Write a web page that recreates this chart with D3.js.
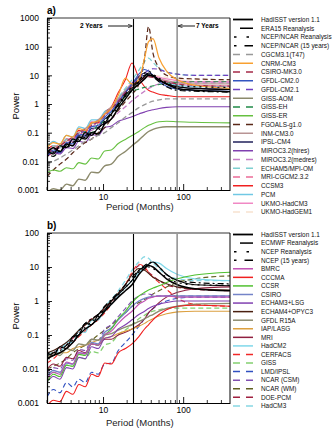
<!DOCTYPE html>
<html>
<head>
<meta charset="utf-8">
<script src="https://cdn.jsdelivr.net/npm/d3@7"></script>
<style>
body { margin: 0; background: #fff; }
text { font-family: "Liberation Sans", Arial, sans-serif; }
</style>
</head>
<body>
<div id="chart"></div>
<script>
// period grid (months) shared by every spectrum
var periods = [2, 2.4, 2.9, 3.5, 4.2, 5, 6, 7.2, 8.7, 10.5, 12.7, 15.5, 19, 23, 28, 33, 37, 42, 50, 62, 85, 140, 384];

// ---- panel a: observations + CMIP3 models ----
var hadisstA = [0.02,0.03,0.022,0.04,0.035,0.07,0.06,0.1,0.09,0.2,0.3,0.7,1.5,3,5,7.5,10,9.5,7,5,3.5,3,2.7];
var era15    = [0.025,0.018,0.035,0.03,0.06,0.05,0.1,0.08,0.15,0.22,0.45,0.9,2,3.5,6,9,12,10,7,5,4,3.5,3.2];
var ncepA    = [0.015,0.02,0.03,0.03,0.045,0.06,0.07,0.1,0.12,0.22,0.4,0.8,1.8,3,6,12,14,11,8,5.5,4.5,4,3.8];
var ncep15A  = [0.02,0.015,0.025,0.035,0.05,0.05,0.08,0.09,0.14,0.25,0.5,1,2.2,4,7,10,11,9,6,4,3,2.8,2.6];
var cgcm     = [0.008,0.01,0.013,0.018,0.025,0.035,0.05,0.06,0.08,0.1,0.15,0.22,0.35,0.5,0.75,0.95,1.1,1.25,1.4,1.5,1.5,1.5,1.5];
var cnrm     = [0.03,0.045,0.04,0.08,0.07,0.14,0.12,0.22,0.25,0.45,0.7,2,8,5,7,40,150,190,40,14,7,4.5,3.5];
var csiro30  = [0.02,0.025,0.035,0.05,0.07,0.1,0.13,0.18,0.25,0.4,0.7,1.2,2.5,4,6,8,9,8.5,7,6,5,4.5,4.2];
var gfdl20   = [0.015,0.025,0.02,0.045,0.04,0.09,0.08,0.16,0.18,0.35,0.55,1.2,2.5,5,11,16,14,10,6,4.2,3.3,3,2.8];
var gfdl21   = [0.02,0.025,0.03,0.04,0.06,0.09,0.12,0.17,0.25,0.4,0.7,1.3,2.6,4.5,8,12,15,17,16,13,11,10,10];
var gissAom  = [0.0008,0.0011,0.001,0.0016,0.0014,0.0024,0.0022,0.0042,0.004,0.007,0.008,0.015,0.022,0.035,0.055,0.085,0.11,0.13,0.15,0.16,0.16,0.16,0.16];
var gissEh   = [0.02,0.02,0.035,0.03,0.06,0.05,0.11,0.1,0.2,0.25,0.5,0.9,1.8,2.8,3.3,3.8,4,4.3,4.8,5.3,5.8,6,6];
var gissEr   = [0.004,0.005,0.0045,0.006,0.0055,0.009,0.008,0.013,0.012,0.023,0.025,0.042,0.058,0.08,0.11,0.15,0.18,0.21,0.24,0.25,0.24,0.23,0.22];
var fgoals   = [0.003,0.005,0.008,0.012,0.02,0.03,0.045,0.06,0.1,0.15,0.3,0.6,1.2,2.2,5,40,500,60,18,10,8,7.5,7];
var inm      = [0.02,0.03,0.04,0.05,0.07,0.1,0.14,0.2,0.28,0.45,0.8,1.5,3,5,7,8.5,9,8.5,7.5,6.5,5.5,5,5];
var ipsl     = [0.015,0.022,0.02,0.04,0.035,0.08,0.07,0.14,0.15,0.3,0.45,1.1,2.5,5,9,12,11,9,6.5,5,4,3.5,3.3];
var mirocHi  = [0.015,0.02,0.018,0.03,0.028,0.05,0.045,0.085,0.08,0.15,0.17,0.25,0.3,0.36,0.45,0.52,0.58,0.63,0.7,0.76,0.8,0.8,0.8];
var mirocMed = [0.02,0.025,0.03,0.04,0.05,0.07,0.09,0.12,0.16,0.22,0.3,0.5,0.8,1.3,2,2.8,3.5,4.2,5,5.5,5.5,5.5,5.5];
var echam5   = [0.02,0.035,0.03,0.06,0.05,0.11,0.11,0.22,0.22,0.5,0.75,1.7,3.5,7,15,30,40,28,18,13,11,10,10];
var mriCgcm  = [0.015,0.02,0.03,0.04,0.06,0.08,0.12,0.16,0.24,0.4,0.7,1.3,2.5,4.5,7,9,9.5,9,7.5,6,5,4.5,4.3];
var ccsm3    = [0.025,0.035,0.03,0.06,0.05,0.12,0.1,0.22,0.22,0.5,0.8,2.5,7,27,8,4,3,2.6,2.2,2,1.8,1.8,1.8];
var pcm      = [0.03,0.05,0.04,0.08,0.07,0.16,0.14,0.28,0.28,0.55,0.75,1.6,3,5,8,10,10,9,7,5.5,4.5,4,4];
var hadcm3A  = [0.025,0.035,0.03,0.06,0.06,0.12,0.11,0.24,0.22,0.45,0.65,1.5,3,5.5,8,9.5,10,9.5,8.5,7.5,6.5,6,6];
var hadgem1  = [0.02,0.025,0.035,0.05,0.07,0.1,0.14,0.2,0.28,0.4,0.7,1.3,2.5,4.5,7,9,10,10,9.5,8.5,7.5,7,7];

// ---- panel b: observations + CMIP2 models ----
var hadisstB = [0.02,0.025,0.03,0.04,0.06,0.1,0.15,0.2,0.3,0.5,0.8,1.3,2,3,6,9,11,10,7,4.5,3,2.3,2];
var ecmwf    = [0.03,0.025,0.045,0.04,0.09,0.1,0.22,0.2,0.4,0.55,1,1.6,2.5,4,8,10,12,14,10,6,4,3,2.8];
var ncepB    = [0.02,0.03,0.04,0.05,0.07,0.11,0.17,0.25,0.35,0.55,0.9,1.5,2.5,4,7,10,10,9,7,5,3.5,3,2.9];
var ncep15B  = [0.025,0.03,0.035,0.05,0.08,0.13,0.22,0.3,0.4,0.7,1.1,1.8,3,5,8,11,13,14,10,6,4,3.5,3.2];
var bmrc     = [0.005,0.008,0.007,0.016,0.014,0.03,0.028,0.055,0.05,0.1,0.13,0.22,0.35,0.5,0.8,1,1.2,1.3,1.4,1.4,1.3,1.3,1.3];
var cccma    = [0.0008,0.0012,0.0011,0.0022,0.0018,0.0035,0.003,0.007,0.006,0.015,0.014,0.03,0.04,0.055,0.09,0.15,0.2,0.28,0.4,0.55,0.7,0.75,0.7];
var ccsr     = [0.004,0.007,0.006,0.013,0.012,0.027,0.025,0.055,0.05,0.1,0.15,0.3,0.5,0.9,1.4,1.8,2.1,2.4,2.8,3.5,4.5,5.8,7];
var csiro    = [0.006,0.009,0.008,0.015,0.014,0.03,0.028,0.06,0.055,0.12,0.16,0.28,0.45,0.7,1,1.2,1.3,1.35,1.4,1.4,1.4,1.4,1.4];
var echam3   = [0.004,0.006,0.005,0.011,0.01,0.022,0.02,0.045,0.04,0.08,0.09,0.15,0.2,0.28,0.4,0.5,0.6,0.7,0.8,0.9,1,1,1];
var echam4   = [0.03,0.035,0.045,0.06,0.09,0.14,0.2,0.28,0.4,0.65,1,1.7,3,6,9,8,6.5,5,4,3.2,2.6,2.3,2.1];
var gfdlR15  = [0.02,0.03,0.025,0.04,0.035,0.055,0.05,0.075,0.07,0.1,0.11,0.14,0.17,0.2,0.25,0.3,0.35,0.4,0.5,0.6,0.7,0.8,0.85];
var iap      = [0.02,0.025,0.03,0.03,0.04,0.045,0.05,0.06,0.07,0.08,0.09,0.11,0.13,0.15,0.18,0.22,0.26,0.3,0.36,0.42,0.48,0.5,0.5];
var mri      = [0.01,0.014,0.012,0.022,0.02,0.035,0.03,0.055,0.05,0.075,0.075,0.1,0.12,0.15,0.2,0.3,0.45,0.6,0.9,1.3,1.8,2.3,2.6];
var hadcm2   = [0.02,0.035,0.03,0.06,0.06,0.13,0.12,0.27,0.28,0.55,0.8,1.5,2.5,4,7,10,12,14,13,9,6,4.5,4];
var cerfacs  = [0.015,0.02,0.03,0.04,0.06,0.09,0.13,0.2,0.28,0.45,0.8,1.5,3,7,12,10,7,5,3.5,2.2,1.2,0.8,0.7];
var giss     = [0.005,0.008,0.007,0.013,0.012,0.022,0.02,0.033,0.03,0.05,0.06,0.1,0.14,0.2,0.3,0.38,0.45,0.5,0.55,0.6,0.62,0.62,0.62];
var lmd      = [0.0015,0.0025,0.002,0.004,0.003,0.005,0.004,0.008,0.007,0.014,0.015,0.035,0.06,0.1,0.18,0.3,0.45,0.6,0.8,1,1.2,1.3,1.3];
var ncarCsm  = [0.008,0.011,0.01,0.02,0.018,0.038,0.035,0.075,0.07,0.15,0.2,0.35,0.6,1,1.4,1.6,1.6,1.5,1.4,1.4,1.4,1.4,1.4];
var ncarWm   = [0.01,0.012,0.015,0.02,0.03,0.04,0.05,0.07,0.1,0.14,0.2,0.3,0.45,0.7,0.9,1.1,1.3,1.6,2,2.6,3.5,4.5,5.5];
var doePcm   = [0.02,0.03,0.04,0.05,0.08,0.13,0.2,0.3,0.4,0.6,0.9,1.5,3,6,11,9,7,5.5,4,3,2.5,2.2,2];
var hadcm3B  = [0.025,0.03,0.04,0.06,0.09,0.14,0.2,0.28,0.4,0.7,1.1,2,4,8,14,20,18,13,9,6,4.5,4,4];

var namesA = ["HadISST version 1.1","ERA15 Reanalysis","NCEP/NCAR Reanalysis","NCEP/NCAR (15 years)",
  "CGCM3.1(T47)","CNRM-CM3","CSIRO-MK3.0","GFDL-CM2.0","GFDL-CM2.1","GISS-AOM","GISS-EH","GISS-ER",
  "FGOALS-g1.0","INM-CM3.0","IPSL-CM4","MIROC3.2(hires)","MIROC3.2(medres)","ECHAM5/MPI-OM",
  "MRI-CGCM2.3.2","CCSM3","PCM","UKMO-HadCM3","UKMO-HadGEM1"];
var valuesA = [hadisstA, era15, ncepA, ncep15A, cgcm, cnrm, csiro30, gfdl20, gfdl21, gissAom, gissEh, gissEr,
  fgoals, inm, ipsl, mirocHi, mirocMed, echam5, mriCgcm, ccsm3, pcm, hadcm3A, hadgem1];

var namesB = ["HadISST version 1.1","ECMWF Reanalysis","NCEP Reanalysis","NCEP (15 years)",
  "BMRC","CCCMA","CCSR","CSIRO","ECHAM3+LSG","ECHAM4+OPYC3","GFDL R15A","IAP/LASG","MRI","HadCM2",
  "CERFACS","GISS","LMD/IPSL","NCAR (CSM)","NCAR (WM)","DOE-PCM","HadCM3"];
var valuesB = [hadisstB, ecmwf, ncepB, ncep15B, bmrc, cccma, ccsr, csiro, echam3, echam4, gfdlR15, iap, mri,
  hadcm2, cerfacs, giss, lmd, ncarCsm, ncarWm, doePcm, hadcm3B];

// line styles: [colour, dash kind, width]
var stylesA = [["#000","solid",1.5],["#000","era",1.1],["#000","dot",1.2],["#000","shortlong",1.2],
  ["#999","dash",1.3],["#f8a030","solid",1.2],["#a52a48","dash",1.1],["#3355c0","solid",1.1],["#7040c0","dash",1.1],
  ["#8c8a6c","solid",1.4],["#208a48","dash",1.1],["#66c040","solid",1.1],["#5a2818","dash",1.2],["#b89494","solid",1.2],
  ["#20205a","solid",1.1],["#8040b0","solid",1.1],["#c47cc4","dash",1.3],["#7ed0d0","dash",1.3],["#ec6c98","dash",1.1],
  ["#f02020","solid",1.1],["#70c8e4","solid",1.2],["#f088c4","solid",1.4],["#f8e2d0","dash",1.3]];
var stylesB = [["#000","solid",1.5],["#000","era",1.1],["#000","dot",1.2],["#000","shortlong",1.2],
  ["#c050b4","solid",1.1],["#f02020","solid",1.1],["#50c030","solid",1.1],["#7484c8","solid",1.4],["#8040b0","solid",1.1],
  ["#4a2010","solid",1.1],["#8c8c70","solid",1.4],["#dca040","solid",1.1],["#902040","solid",1.1],["#80d8ea","solid",1.2],
  ["#f02828","dash",1.1],["#84d070","dash",1.3],["#3050c0","dash",1.1],["#8050b0","dash",1.1],["#606020","dash",1.1],
  ["#a02040","dash",1.1],["#88d8e4","dash",1.3]];

var dashes = {solid: null, era: null, dash: "5,3", dot: "2,4", shortlong: "2,3,6,3"};

var width = 334, height = 428;
var svg = d3.select("#chart").append("svg")
    .attr("width", width)
    .attr("height", height);

function drawPanel(opt) {
  var x = d3.scaleLog().domain([2, 384]).range([47, 230]);
  var y = d3.scaleLog().domain(opt.yDomain).range([opt.bottom, opt.top]);
  var g = svg.append("g");

  var clipId = "clip-" + opt.tag;
  svg.append("clipPath").attr("id", clipId)
     .append("rect").attr("x", 47).attr("y", opt.top)
     .attr("width", 183).attr("height", opt.bottom - opt.top);

  var line = d3.line()
      .x(function(d, i){ return x(periods[i]); })
      .y(function(d){ return y(d); })
      .curve(d3.curveMonotoneX);

  // spectra, reanalyses drawn last so they sit on top
  var curves = g.append("g").attr("clip-path", "url(#" + clipId + ")");
  for (var k = opt.values.length - 1; k >= 0; k--) {
    var st = opt.styles[k];
    curves.append("path")
      .attr("d", line(opt.values[k]))
      .attr("fill", "none")
      .attr("stroke", st[0])
      .attr("stroke-width", st[2])
      .attr("stroke-dasharray", dashes[st[1]]);
  }

  // 2 year and 7 year markers
  g.append("line").attr("x1", x(24)).attr("x2", x(24)).attr("y1", opt.top).attr("y2", opt.bottom)
    .attr("stroke", "#000").attr("stroke-width", 1.1);
  g.append("line").attr("x1", x(84)).attr("x2", x(84)).attr("y1", opt.top).attr("y2", opt.bottom)
    .attr("stroke", "#666").attr("stroke-width", 1.1);

  // frame
  g.append("line").attr("x1", 47).attr("x2", 230).attr("y1", opt.top).attr("y2", opt.top)
    .attr("stroke", "#999").attr("stroke-width", 2);
  g.append("line").attr("x1", 230).attr("x2", 230).attr("y1", opt.top).attr("y2", opt.bottom)
    .attr("stroke", "#000").attr("stroke-width", 1);

  // axes with inward ticks
  var majorY = opt.yTicks;
  var yAxis = d3.axisLeft(y).tickValues(majorY).tickSizeInner(-5).tickSizeOuter(0).tickPadding(8)
      .tickFormat(function(d){ return d >= 1 ? d3.format("d")(d) : d3.format("")(d); });
  var ya = g.append("g").attr("transform", "translate(47,0)").call(yAxis);
  var minorY = y.ticks().filter(function(d){ return majorY.indexOf(d) < 0; });
  ya.selectAll(".minor").data(minorY).enter().append("line").attr("class", "minor")
    .attr("x1", 0).attr("x2", 3).attr("y1", function(d){ return y(d); }).attr("y2", function(d){ return y(d); })
    .attr("stroke", "#000").attr("stroke-width", 0.8);

  var xAxis = d3.axisBottom(x).tickValues([10, 100]).tickSizeInner(-6).tickSizeOuter(0).tickPadding(4)
      .tickFormat(d3.format("d"));
  var xa = g.append("g").attr("transform", "translate(0," + opt.bottom + ")").call(xAxis);
  var minorX = x.ticks().filter(function(d){ return d !== 10 && d !== 100; });
  xa.selectAll(".minor").data(minorX).enter().append("line").attr("class", "minor")
    .attr("x1", function(d){ return x(d); }).attr("x2", function(d){ return x(d); })
    .attr("y1", 0).attr("y2", -3).attr("stroke", "#000").attr("stroke-width", 0.8);

  g.selectAll(".domain").attr("stroke", "#000").attr("stroke-width", 1.2);
  g.selectAll(".tick line").attr("stroke-width", 0.9);
  g.selectAll(".tick text").attr("font-size", "8.5px").attr("fill", "#000")
    .attr("font-family", "'Liberation Sans', Arial, sans-serif");

  // labels
  g.append("text").attr("x", 47).attr("y", opt.top - 4).attr("font-size", "10px").attr("font-weight", "bold")
    .text(opt.tag + ")");
  g.append("text").attr("transform", "translate(19," + opt.labelY + ") rotate(-90)")
    .attr("text-anchor", "middle").attr("font-size", "9.5px").text("Power");
  g.append("text").attr("x", 106).attr("y", opt.xLabelY).attr("font-size", "9.5px").attr("fill", "#222")
    .text("Period (Months)");

  // legend
  var leg = g.append("g");
  opt.names.forEach(function(name, i) {
    var ly = opt.legTop + i * opt.legStep;
    var st = opt.styles[i];
    var x1 = 233, x2 = 253, dash = null;
    if (st[1] === "era") { x1 = 240; }
    if (st[1] === "dash") { dash = "7,6"; }
    if (st[1] === "dot") { dash = "2.5,10"; x1 = 234; }
    if (st[1] === "shortlong") { dash = "2.5,8,10"; x1 = 234; }
    leg.append("line").attr("x1", x1).attr("x2", x2).attr("y1", ly).attr("y2", ly)
      .attr("stroke", st[0]).attr("stroke-width", st[0] === "#000" && st[1] === "solid" ? 1.8 : 1.5)
      .attr("stroke-dasharray", dash);
    leg.append("text").attr("x", 261).attr("y", ly + 2.3).attr("font-size", "6.4px").attr("fill", "#111")
      .text(name);
  });
}

drawPanel({tag: "a", top: 18, bottom: 190, yDomain: [0.001, 1000],
  yTicks: [0.001, 0.01, 0.1, 1, 10, 100, 1000], names: namesA, values: valuesA, styles: stylesA,
  labelY: 106, xLabelY: 210, legTop: 19.5, legStep: 8.75});
drawPanel({tag: "b", top: 233, bottom: 403, yDomain: [0.001, 100],
  yTicks: [0.001, 0.01, 0.1, 1, 10, 100], names: namesB, values: valuesB, styles: stylesB,
  labelY: 316, xLabelY: 426, legTop: 234.5, legStep: 8.57});

// year annotations on panel a
var xa = d3.scaleLog().domain([2, 384]).range([47, 230]);
svg.append("defs").append("marker").attr("id", "arrow").attr("viewBox", "0 0 10 10")
  .attr("refX", 10).attr("refY", 5).attr("markerWidth", 5).attr("markerHeight", 5).attr("orient", "auto")
  .append("path").attr("d", "M0,1 L10,5 L0,9").attr("fill", "none").attr("stroke", "#000").attr("stroke-width", 1.5);
svg.append("text").attr("x", 80).attr("y", 28).attr("font-size", "6.5px").attr("font-weight", "bold").text("2 Years");
svg.append("line").attr("x1", 108).attr("x2", xa(24) - 1).attr("y1", 26).attr("y2", 26)
  .attr("stroke", "#000").attr("stroke-width", 0.9).attr("marker-end", "url(#arrow)");
svg.append("line").attr("x1", 195).attr("x2", xa(84) + 1).attr("y1", 26).attr("y2", 26)
  .attr("stroke", "#000").attr("stroke-width", 0.9).attr("marker-end", "url(#arrow)");
svg.append("text").attr("x", 196).attr("y", 28).attr("font-size", "6.5px").attr("font-weight", "bold").text("7 Years");
</script>
</body>
</html>
